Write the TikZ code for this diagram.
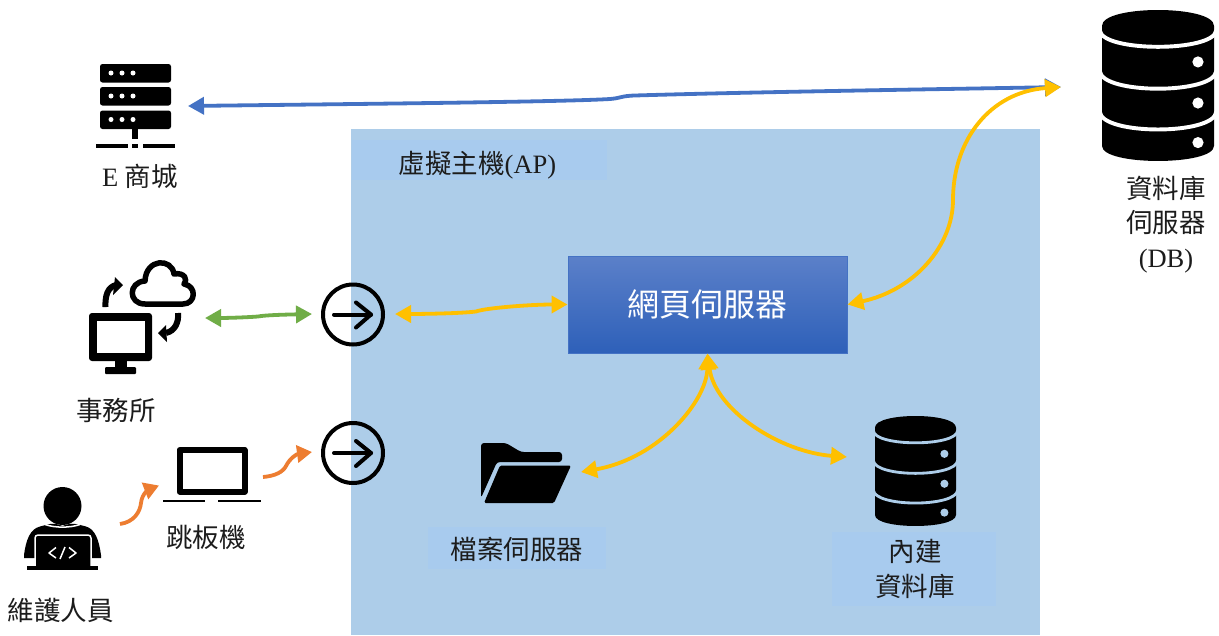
\documentclass[tikz,border=0pt]{standalone}
\usepackage{fontspec}
\setmainfont{Liberation Serif}
\newfontfamily\cjk{Noto Sans CJK TC}
\usetikzlibrary{arrows.meta,shapes.geometric}
\definecolor{panelc}{HTML}{ADCDE9}
\definecolor{labelc}{HTML}{A8CBEE}
\definecolor{bluec}{HTML}{4472C4}
\definecolor{webtop}{HTML}{5B80C9}
\definecolor{webbot}{HTML}{2E60B9}
\definecolor{yellowc}{HTML}{FFC000}
\definecolor{greenc}{HTML}{70AD47}
\definecolor{orangec}{HTML}{ED7D31}
\definecolor{txtc}{HTML}{1C1C1C}
\tikzset{
  tipA/.tip={Triangle[length=16pt,width=17pt]},
  biarrow/.style={line width=3.8pt,tipA-tipA},
  oneway/.style={line width=3.8pt,-{Triangle[length=15pt,width=17pt]},draw=orangec},
  lab/.style={font=\fontsize{26.5}{34.5}\selectfont,text=txtc,align=center,inner sep=0pt},
  webbox/.style={draw=bluec,line width=1pt,top color=webtop,bottom color=webbot,
    minimum width=279pt,minimum height=97pt,inner sep=0pt,
    font=\fontsize{32}{36}\selectfont,text=white},
  gocircle/.style={circle,draw=black,line width=4pt,minimum size=60pt,inner sep=0pt},
}
\newcommand{\dbicon}[5]{%
\begin{scope}[shift={(#1,#2)},x=#3pt,y=-#4pt]
  \fill[black] (0,.105) .. controls (0,-.035) and (1,-.035) .. (1,.105) -- (1,.9)
     .. controls (1,1.033) and (0,1.033) .. (0,.9) -- cycle;
  \draw[#5,line width=.035*#3pt] (-.02,.135) .. controls (0,.28) and (1,.28) .. (1.02,.135);
  \draw[#5,line width=.035*#3pt] (-.02,.405) .. controls (0,.56) and (1,.56) .. (1.02,.405);
  \draw[#5,line width=.035*#3pt] (-.02,.675) .. controls (0,.83) and (1,.83) .. (1.02,.675);
  \fill[#5] (.857,.344) ellipse (.05 and .037);
  \fill[#5] (.857,.616) ellipse (.05 and .037);
  \fill[#5] (.857,.878) ellipse (.05 and .037);
\end{scope}}
\newcommand{\goarrow}[2]{%
  \draw[line width=4pt,line cap=round,line join=round] (#1-19,#2) -- (#1+18,#2);
  \draw[line width=4pt,line cap=round,line join=round] (#1+3,#2-12) -- (#1+18,#2) -- (#1+3,#2+13);}
\begin{document}
\begin{tikzpicture}[x=1pt,y=-1pt]
\useasboundingbox (0,0) rectangle (1219,635);
\fill[white] (0,0) rectangle (1219,635);
% virtual host panel
\fill[panelc] (351,129) rectangle (1040,635);
\fill[labelc] (352,140) rectangle (607,180);
\fill[labelc] (428,527) rectangle (606,569);
\fill[labelc] (832,532) rectangle (996,606);
% server icon
\foreach \yy in {64,87,110.5}{
  \fill[black,rounded corners=2.5pt] (100,\yy) rectangle (171,\yy+18.5);
  \foreach \xx in {111,122,133} \fill[white] (\xx,\yy+9) circle (2.5);
}
\fill[black] (132,129) rectangle (138,139);
\fill[black] (96,143.5) rectangle (128,148);
\fill[black] (132,143.5) rectangle (138,148);
\fill[black] (143,143.5) rectangle (175,148);
% databases
\dbicon{1102}{10}{112}{151}{white}
\dbicon{875}{416}{81}{110}{panelc}
% office icon
\fill[black,rounded corners=3pt] (89,313) rectangle (152,361);
\fill[white] (97,321) rectangle (145,353);
\fill[black] (115,361) rectangle (127,368);
\fill[black,rounded corners=1pt] (105,367) rectangle (136,374);
\draw[line width=5.5pt,line join=round] (145,304) .. controls (128,304) and (128,282) .. (145,281)
  .. controls (146,258) and (172,258) .. (174,274) .. controls (185,272) and (188,280) .. (184,284)
  .. controls (197,286) and (196,304) .. (183,304) -- cycle;
\draw[line width=6pt] (105.5,307) .. controls (105,295) and (108,287) .. (116,285);
\fill[black] (123,285) -- (115,277) -- (113,295) -- cycle;
\draw[line width=6pt] (178,313) .. controls (179,322) and (175,331) .. (166,333);
\fill[black] (158,333) -- (166,325) -- (167,342) -- cycle;
% laptop
\draw[line width=6pt,line join=round] (179.5,450) rectangle (244.5,491.5);
\fill[black] (163,499.5) rectangle (205,501.8);
\fill[black] (218,499.5) rectangle (261,501.8);
% person
\fill[black] (62.5,506) circle (19);
\fill[black] (24,555) .. controls (26,540) and (30,529) .. (40,526.5)
  .. controls (50,524) and (52,522) .. (62.5,526) .. controls (73,522) and (76,524) .. (86,526.5)
  .. controls (95,529) and (99,540) .. (101,555) -- (101,558) -- (24,558) -- cycle;
\draw[white,line width=1.5pt] (45,524.5) .. controls (55,528) and (70,528) .. (80,524.5);
\filldraw[fill=black,draw=white,line width=1.5pt,rounded corners=3pt] (35,566) -- (35,535) -- (91,535) -- (91,566);
\fill[black] (27,565.5) rectangle (98,569.5);
\draw[white,line width=1.5pt,line join=round] (56,547.5) -- (49,553) -- (56,558);
\draw[white,line width=1.5pt,line join=round] (69,547.5) -- (76,553) -- (69,558);
\draw[white,line width=1.5pt] (65,547) -- (60,559);
% folder
\fill[black,rounded corners=3pt] (481,498) -- (481,443) -- (506,443) -- (521,452) -- (562,452) -- (562,462) -- (497,462) -- cycle;
\fill[black,rounded corners=1.5pt] (500,465.5) -- (571,465.5) -- (554,503) -- (484,503) -- cycle;
% main nodes
\node[webbox] (web) at (707.5,304.5) {\cjk 網頁伺服器};
\node[gocircle] (go1) at (353,314.5) {};
\node[gocircle] (go2) at (353,453) {};
\goarrow{353}{314.5}
\goarrow{353}{453}
% connector ends
\coordinate (shopend) at (188,106);
\coordinate (dbend) at (1061,87);
\coordinate (officeend) at (205,318);
\coordinate (gogreen) at (312,314);
\coordinate (goyellow) at (395,314);
\coordinate (folderend) at (581,472);
\coordinate (intdbend) at (847,457);
\coordinate (personend) at (120,524);
\coordinate (laptopin) at (159,485.5);
\coordinate (laptopout) at (263,477);
\coordinate (gopin) at (312,452);
% connectors
\draw[biarrow,draw=bluec,bluec] (shopend) .. controls (350,104) and (560,102) .. (610,99)
  .. controls (622,98) and (620,96) .. (635,95.5) .. controls (750,92) and (950,89) .. (dbend);
\draw[biarrow,draw=greenc,greenc] (officeend) .. controls (225,318) and (245,317.5) .. (258,316.5)
  .. controls (265,315) and (290,314.5) .. (gogreen);
\draw[biarrow,draw=yellowc,yellowc] (goyellow) .. controls (420,314) and (460,313.5) .. (476,311.5)
  .. controls (485,308) and (530,304.5) .. (web.west);
\draw[biarrow,draw=yellowc,yellowc] (web.east) .. controls (915,290) and (953,245) .. (953,200)
  .. controls (953,140) and (990,92) .. (dbend);
\draw[biarrow,draw=yellowc,yellowc] (web.south) .. controls (707,400) and (660,458) .. (folderend);
\draw[biarrow,draw=yellowc,yellowc] (web.south) .. controls (715,410) and (780,452) .. (intdbend);
\draw[oneway,orangec] (personend) .. controls (134,522) and (140,512) .. (141,503)
  .. controls (142,493) and (150,489) .. (laptopin);
\draw[oneway,orangec] (laptopout) .. controls (275,476) and (283,472) .. (286,466)
  .. controls (290,458) and (297,454) .. (gopin);
% labels
\node[lab] (shoplab) at (140,176) {E {\cjk 商城}};
\node[lab,anchor=west] (aplab) at (398.5,165) {{\cjk 虛擬主機}(AP)};
\node[lab] (officelab) at (116,410.5) {\cjk 事務所};
\node[lab] (laptoplab) at (206,537.5) {\cjk 跳板機};
\node[lab] (personlab) at (61,610.5) {\cjk 維護人員};
\node[lab] (folderlab) at (517,549.5) {\cjk 檔案伺服器};
\node[lab] (intdblab) at (915,569) {\cjk 內建\\\cjk 資料庫};
\node[lab] (dblab) at (1166,224.5) {\cjk 資料庫\\\cjk 伺服器\\(DB)};
\end{tikzpicture}
\end{document}
